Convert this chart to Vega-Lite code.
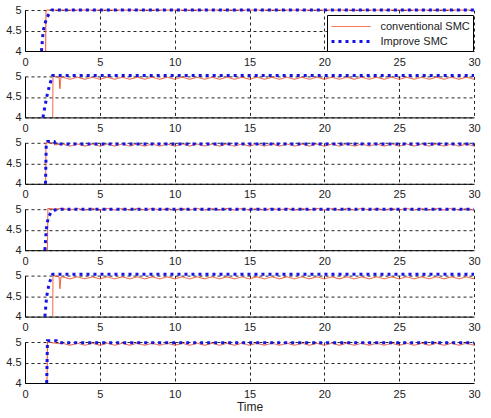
{
"$schema": "https://vega.github.io/schema/vega-lite/v6.json",
"padding": {"left": 5, "top": 4, "right": 0, "bottom": 0},
"background": "white",
"config": {
  "view": {"stroke": null},
  "axis": {"labelFont": "Liberation Sans", "labelFontSize": 11, "labelColor": "#222", "domainColor": "#000", "domainWidth": 1, "ticks": false, "grid": true, "gridColor": "#000", "gridDash": [3, 3], "gridOpacity": 0.85, "gridWidth": 1, "titleFont": "Liberation Sans", "titleFontSize": 12, "titleFontWeight": "normal", "titleColor": "#222"},
  "legend": {"labelFont": "Liberation Sans", "labelFontSize": 11, "labelColor": "#222"}
},
"bounds": "flush",
"spacing": 25.4,
"resolve": {"legend": {"color": "independent", "strokeDash": "independent", "strokeWidth": "independent"}},
"data": {"values": [
{"p":1,"s":"Improve SMC","t":1.1,"v":4.0},{"p":1,"s":"Improve SMC","t":1.22,"v":4.5},{"p":1,"s":"Improve SMC","t":1.4,"v":4.75},{"p":1,"s":"Improve SMC","t":1.55,"v":4.87},{"p":1,"s":"Improve SMC","t":1.8,"v":5.0},{"p":1,"s":"Improve SMC","t":30,"v":5.0},
{"p":1,"s":"conventional SMC","t":1.38,"v":4.0},{"p":1,"s":"conventional SMC","t":1.4,"v":4.95},{"p":1,"s":"conventional SMC","t":1.45,"v":5.0},{"p":1,"s":"conventional SMC","t":30,"v":5.0},

{"p":2,"s":"Improve SMC","t":1.2,"v":4.0},{"p":2,"s":"Improve SMC","t":1.45,"v":4.5},{"p":2,"s":"Improve SMC","t":1.65,"v":4.8},{"p":2,"s":"Improve SMC","t":1.85,"v":5.02},{"p":2,"s":"Improve SMC","t":30,"v":5.02},
{"p":2,"s":"conventional SMC","t":1.85,"v":4.0},{"p":2,"s":"conventional SMC","t":1.87,"v":5.0},{"p":2,"s":"conventional SMC","t":2.28,"v":4.98},{"p":2,"s":"conventional SMC","t":2.33,"v":4.7},{"p":2,"s":"conventional SMC","t":2.4,"v":4.98},
{"p":2,"s":"conventional SMC","t":2.5,"v":4.98},{"p":2,"s":"conventional SMC","t":3,"v":4.93},{"p":2,"s":"conventional SMC","t":3.5,"v":4.98},{"p":2,"s":"conventional SMC","t":4,"v":4.93},{"p":2,"s":"conventional SMC","t":4.5,"v":4.98},{"p":2,"s":"conventional SMC","t":5,"v":4.93},{"p":2,"s":"conventional SMC","t":5.5,"v":4.98},{"p":2,"s":"conventional SMC","t":6,"v":4.93},{"p":2,"s":"conventional SMC","t":6.5,"v":4.98},{"p":2,"s":"conventional SMC","t":7,"v":4.93},{"p":2,"s":"conventional SMC","t":7.5,"v":4.98},{"p":2,"s":"conventional SMC","t":8,"v":4.93},{"p":2,"s":"conventional SMC","t":8.5,"v":4.98},{"p":2,"s":"conventional SMC","t":9,"v":4.93},{"p":2,"s":"conventional SMC","t":9.5,"v":4.98},{"p":2,"s":"conventional SMC","t":10,"v":4.93},{"p":2,"s":"conventional SMC","t":10.5,"v":4.98},{"p":2,"s":"conventional SMC","t":11,"v":4.93},{"p":2,"s":"conventional SMC","t":11.5,"v":4.98},{"p":2,"s":"conventional SMC","t":12,"v":4.93},{"p":2,"s":"conventional SMC","t":12.5,"v":4.98},{"p":2,"s":"conventional SMC","t":13,"v":4.93},{"p":2,"s":"conventional SMC","t":13.5,"v":4.98},{"p":2,"s":"conventional SMC","t":14,"v":4.93},{"p":2,"s":"conventional SMC","t":14.5,"v":4.98},{"p":2,"s":"conventional SMC","t":15,"v":4.93},{"p":2,"s":"conventional SMC","t":15.5,"v":4.98},{"p":2,"s":"conventional SMC","t":16,"v":4.93},{"p":2,"s":"conventional SMC","t":16.5,"v":4.98},{"p":2,"s":"conventional SMC","t":17,"v":4.93},{"p":2,"s":"conventional SMC","t":17.5,"v":4.98},{"p":2,"s":"conventional SMC","t":18,"v":4.93},{"p":2,"s":"conventional SMC","t":18.5,"v":4.98},{"p":2,"s":"conventional SMC","t":19,"v":4.93},{"p":2,"s":"conventional SMC","t":19.5,"v":4.98},{"p":2,"s":"conventional SMC","t":20,"v":4.93},{"p":2,"s":"conventional SMC","t":20.5,"v":4.98},{"p":2,"s":"conventional SMC","t":21,"v":4.93},{"p":2,"s":"conventional SMC","t":21.5,"v":4.98},{"p":2,"s":"conventional SMC","t":22,"v":4.93},{"p":2,"s":"conventional SMC","t":22.5,"v":4.98},{"p":2,"s":"conventional SMC","t":23,"v":4.93},{"p":2,"s":"conventional SMC","t":23.5,"v":4.98},{"p":2,"s":"conventional SMC","t":24,"v":4.93},{"p":2,"s":"conventional SMC","t":24.5,"v":4.98},{"p":2,"s":"conventional SMC","t":25,"v":4.93},{"p":2,"s":"conventional SMC","t":25.5,"v":4.98},{"p":2,"s":"conventional SMC","t":26,"v":4.93},{"p":2,"s":"conventional SMC","t":26.5,"v":4.98},{"p":2,"s":"conventional SMC","t":27,"v":4.93},{"p":2,"s":"conventional SMC","t":27.5,"v":4.98},{"p":2,"s":"conventional SMC","t":28,"v":4.93},{"p":2,"s":"conventional SMC","t":28.5,"v":4.98},{"p":2,"s":"conventional SMC","t":29,"v":4.93},{"p":2,"s":"conventional SMC","t":29.5,"v":4.98},{"p":2,"s":"conventional SMC","t":30,"v":4.93},

{"p":3,"s":"Improve SMC","t":1.37,"v":4.0},{"p":3,"s":"Improve SMC","t":1.42,"v":4.98},{"p":3,"s":"Improve SMC","t":1.5,"v":5.03},{"p":3,"s":"Improve SMC","t":1.95,"v":5.03},{"p":3,"s":"Improve SMC","t":2.05,"v":4.97},{"p":3,"s":"Improve SMC","t":30,"v":4.97},
{"p":3,"s":"conventional SMC","t":1.38,"v":4.0},{"p":3,"s":"conventional SMC","t":1.4,"v":5.0},{"p":3,"s":"conventional SMC","t":1.9,"v":5.0},{"p":3,"s":"conventional SMC","t":2.0,"v":4.95},
{"p":3,"s":"conventional SMC","t":2.5,"v":4.97},{"p":3,"s":"conventional SMC","t":3,"v":4.92},{"p":3,"s":"conventional SMC","t":3.5,"v":4.97},{"p":3,"s":"conventional SMC","t":4,"v":4.92},{"p":3,"s":"conventional SMC","t":4.5,"v":4.97},{"p":3,"s":"conventional SMC","t":5,"v":4.92},{"p":3,"s":"conventional SMC","t":5.5,"v":4.97},{"p":3,"s":"conventional SMC","t":6,"v":4.92},{"p":3,"s":"conventional SMC","t":6.5,"v":4.97},{"p":3,"s":"conventional SMC","t":7,"v":4.92},{"p":3,"s":"conventional SMC","t":7.5,"v":4.97},{"p":3,"s":"conventional SMC","t":8,"v":4.92},{"p":3,"s":"conventional SMC","t":8.5,"v":4.97},{"p":3,"s":"conventional SMC","t":9,"v":4.92},{"p":3,"s":"conventional SMC","t":9.5,"v":4.97},{"p":3,"s":"conventional SMC","t":10,"v":4.92},{"p":3,"s":"conventional SMC","t":10.5,"v":4.97},{"p":3,"s":"conventional SMC","t":11,"v":4.92},{"p":3,"s":"conventional SMC","t":11.5,"v":4.97},{"p":3,"s":"conventional SMC","t":12,"v":4.92},{"p":3,"s":"conventional SMC","t":12.5,"v":4.97},{"p":3,"s":"conventional SMC","t":13,"v":4.92},{"p":3,"s":"conventional SMC","t":13.5,"v":4.97},{"p":3,"s":"conventional SMC","t":14,"v":4.92},{"p":3,"s":"conventional SMC","t":14.5,"v":4.97},{"p":3,"s":"conventional SMC","t":15,"v":4.92},{"p":3,"s":"conventional SMC","t":15.5,"v":4.97},{"p":3,"s":"conventional SMC","t":16,"v":4.92},{"p":3,"s":"conventional SMC","t":16.5,"v":4.97},{"p":3,"s":"conventional SMC","t":17,"v":4.92},{"p":3,"s":"conventional SMC","t":17.5,"v":4.97},{"p":3,"s":"conventional SMC","t":18,"v":4.92},{"p":3,"s":"conventional SMC","t":18.5,"v":4.97},{"p":3,"s":"conventional SMC","t":19,"v":4.92},{"p":3,"s":"conventional SMC","t":19.5,"v":4.97},{"p":3,"s":"conventional SMC","t":20,"v":4.92},{"p":3,"s":"conventional SMC","t":20.5,"v":4.97},{"p":3,"s":"conventional SMC","t":21,"v":4.92},{"p":3,"s":"conventional SMC","t":21.5,"v":4.97},{"p":3,"s":"conventional SMC","t":22,"v":4.92},{"p":3,"s":"conventional SMC","t":22.5,"v":4.97},{"p":3,"s":"conventional SMC","t":23,"v":4.92},{"p":3,"s":"conventional SMC","t":23.5,"v":4.97},{"p":3,"s":"conventional SMC","t":24,"v":4.92},{"p":3,"s":"conventional SMC","t":24.5,"v":4.97},{"p":3,"s":"conventional SMC","t":25,"v":4.92},{"p":3,"s":"conventional SMC","t":25.5,"v":4.97},{"p":3,"s":"conventional SMC","t":26,"v":4.92},{"p":3,"s":"conventional SMC","t":26.5,"v":4.97},{"p":3,"s":"conventional SMC","t":27,"v":4.92},{"p":3,"s":"conventional SMC","t":27.5,"v":4.97},{"p":3,"s":"conventional SMC","t":28,"v":4.92},{"p":3,"s":"conventional SMC","t":28.5,"v":4.97},{"p":3,"s":"conventional SMC","t":29,"v":4.92},{"p":3,"s":"conventional SMC","t":29.5,"v":4.97},{"p":3,"s":"conventional SMC","t":30,"v":4.92},

{"p":4,"s":"Improve SMC","t":1.33,"v":4.0},{"p":4,"s":"Improve SMC","t":1.42,"v":4.5},{"p":4,"s":"Improve SMC","t":1.55,"v":4.8},{"p":4,"s":"Improve SMC","t":1.75,"v":4.93},{"p":4,"s":"Improve SMC","t":2.0,"v":4.98},{"p":4,"s":"Improve SMC","t":2.4,"v":5.0},{"p":4,"s":"Improve SMC","t":30,"v":5.0},
{"p":4,"s":"conventional SMC","t":1.5,"v":4.0},{"p":4,"s":"conventional SMC","t":1.53,"v":5.02},{"p":4,"s":"conventional SMC","t":2.0,"v":5.0},
{"p":4,"s":"conventional SMC","t":2.5,"v":5.02},{"p":4,"s":"conventional SMC","t":3,"v":4.98},{"p":4,"s":"conventional SMC","t":3.5,"v":5.02},{"p":4,"s":"conventional SMC","t":4,"v":4.98},{"p":4,"s":"conventional SMC","t":4.5,"v":5.02},{"p":4,"s":"conventional SMC","t":5,"v":4.98},{"p":4,"s":"conventional SMC","t":5.5,"v":5.02},{"p":4,"s":"conventional SMC","t":6,"v":4.98},{"p":4,"s":"conventional SMC","t":6.5,"v":5.02},{"p":4,"s":"conventional SMC","t":7,"v":4.98},{"p":4,"s":"conventional SMC","t":7.5,"v":5.02},{"p":4,"s":"conventional SMC","t":8,"v":4.98},{"p":4,"s":"conventional SMC","t":8.5,"v":5.02},{"p":4,"s":"conventional SMC","t":9,"v":4.98},{"p":4,"s":"conventional SMC","t":9.5,"v":5.02},{"p":4,"s":"conventional SMC","t":10,"v":4.98},{"p":4,"s":"conventional SMC","t":10.5,"v":5.02},{"p":4,"s":"conventional SMC","t":11,"v":4.98},{"p":4,"s":"conventional SMC","t":11.5,"v":5.02},{"p":4,"s":"conventional SMC","t":12,"v":4.98},{"p":4,"s":"conventional SMC","t":12.5,"v":5.02},{"p":4,"s":"conventional SMC","t":13,"v":4.98},{"p":4,"s":"conventional SMC","t":13.5,"v":5.02},{"p":4,"s":"conventional SMC","t":14,"v":4.98},{"p":4,"s":"conventional SMC","t":14.5,"v":5.02},{"p":4,"s":"conventional SMC","t":15,"v":4.98},{"p":4,"s":"conventional SMC","t":15.5,"v":5.02},{"p":4,"s":"conventional SMC","t":16,"v":4.98},{"p":4,"s":"conventional SMC","t":16.5,"v":5.02},{"p":4,"s":"conventional SMC","t":17,"v":4.98},{"p":4,"s":"conventional SMC","t":17.5,"v":5.02},{"p":4,"s":"conventional SMC","t":18,"v":4.98},{"p":4,"s":"conventional SMC","t":18.5,"v":5.02},{"p":4,"s":"conventional SMC","t":19,"v":4.98},{"p":4,"s":"conventional SMC","t":19.5,"v":5.02},{"p":4,"s":"conventional SMC","t":20,"v":4.98},{"p":4,"s":"conventional SMC","t":20.5,"v":5.02},{"p":4,"s":"conventional SMC","t":21,"v":4.98},{"p":4,"s":"conventional SMC","t":21.5,"v":5.02},{"p":4,"s":"conventional SMC","t":22,"v":4.98},{"p":4,"s":"conventional SMC","t":22.5,"v":5.02},{"p":4,"s":"conventional SMC","t":23,"v":4.98},{"p":4,"s":"conventional SMC","t":23.5,"v":5.02},{"p":4,"s":"conventional SMC","t":24,"v":4.98},{"p":4,"s":"conventional SMC","t":24.5,"v":5.02},{"p":4,"s":"conventional SMC","t":25,"v":4.98},{"p":4,"s":"conventional SMC","t":25.5,"v":5.02},{"p":4,"s":"conventional SMC","t":26,"v":4.98},{"p":4,"s":"conventional SMC","t":26.5,"v":5.02},{"p":4,"s":"conventional SMC","t":27,"v":4.98},{"p":4,"s":"conventional SMC","t":27.5,"v":5.02},{"p":4,"s":"conventional SMC","t":28,"v":4.98},{"p":4,"s":"conventional SMC","t":28.5,"v":5.02},{"p":4,"s":"conventional SMC","t":29,"v":4.98},{"p":4,"s":"conventional SMC","t":29.5,"v":5.02},{"p":4,"s":"conventional SMC","t":30,"v":4.98},

{"p":5,"s":"Improve SMC","t":1.33,"v":4.0},{"p":5,"s":"Improve SMC","t":1.45,"v":4.5},{"p":5,"s":"Improve SMC","t":1.62,"v":4.82},{"p":5,"s":"Improve SMC","t":1.85,"v":5.03},{"p":5,"s":"Improve SMC","t":30,"v":5.03},
{"p":5,"s":"conventional SMC","t":1.85,"v":4.0},{"p":5,"s":"conventional SMC","t":1.87,"v":5.0},{"p":5,"s":"conventional SMC","t":2.28,"v":4.97},{"p":5,"s":"conventional SMC","t":2.33,"v":4.68},{"p":5,"s":"conventional SMC","t":2.4,"v":4.96},
{"p":5,"s":"conventional SMC","t":2.5,"v":4.97},{"p":5,"s":"conventional SMC","t":3,"v":4.92},{"p":5,"s":"conventional SMC","t":3.5,"v":4.97},{"p":5,"s":"conventional SMC","t":4,"v":4.92},{"p":5,"s":"conventional SMC","t":4.5,"v":4.97},{"p":5,"s":"conventional SMC","t":5,"v":4.92},{"p":5,"s":"conventional SMC","t":5.5,"v":4.97},{"p":5,"s":"conventional SMC","t":6,"v":4.92},{"p":5,"s":"conventional SMC","t":6.5,"v":4.97},{"p":5,"s":"conventional SMC","t":7,"v":4.92},{"p":5,"s":"conventional SMC","t":7.5,"v":4.97},{"p":5,"s":"conventional SMC","t":8,"v":4.92},{"p":5,"s":"conventional SMC","t":8.5,"v":4.97},{"p":5,"s":"conventional SMC","t":9,"v":4.92},{"p":5,"s":"conventional SMC","t":9.5,"v":4.97},{"p":5,"s":"conventional SMC","t":10,"v":4.92},{"p":5,"s":"conventional SMC","t":10.5,"v":4.97},{"p":5,"s":"conventional SMC","t":11,"v":4.92},{"p":5,"s":"conventional SMC","t":11.5,"v":4.97},{"p":5,"s":"conventional SMC","t":12,"v":4.92},{"p":5,"s":"conventional SMC","t":12.5,"v":4.97},{"p":5,"s":"conventional SMC","t":13,"v":4.92},{"p":5,"s":"conventional SMC","t":13.5,"v":4.97},{"p":5,"s":"conventional SMC","t":14,"v":4.92},{"p":5,"s":"conventional SMC","t":14.5,"v":4.97},{"p":5,"s":"conventional SMC","t":15,"v":4.92},{"p":5,"s":"conventional SMC","t":15.5,"v":4.97},{"p":5,"s":"conventional SMC","t":16,"v":4.92},{"p":5,"s":"conventional SMC","t":16.5,"v":4.97},{"p":5,"s":"conventional SMC","t":17,"v":4.92},{"p":5,"s":"conventional SMC","t":17.5,"v":4.97},{"p":5,"s":"conventional SMC","t":18,"v":4.92},{"p":5,"s":"conventional SMC","t":18.5,"v":4.97},{"p":5,"s":"conventional SMC","t":19,"v":4.92},{"p":5,"s":"conventional SMC","t":19.5,"v":4.97},{"p":5,"s":"conventional SMC","t":20,"v":4.92},{"p":5,"s":"conventional SMC","t":20.5,"v":4.97},{"p":5,"s":"conventional SMC","t":21,"v":4.92},{"p":5,"s":"conventional SMC","t":21.5,"v":4.97},{"p":5,"s":"conventional SMC","t":22,"v":4.92},{"p":5,"s":"conventional SMC","t":22.5,"v":4.97},{"p":5,"s":"conventional SMC","t":23,"v":4.92},{"p":5,"s":"conventional SMC","t":23.5,"v":4.97},{"p":5,"s":"conventional SMC","t":24,"v":4.92},{"p":5,"s":"conventional SMC","t":24.5,"v":4.97},{"p":5,"s":"conventional SMC","t":25,"v":4.92},{"p":5,"s":"conventional SMC","t":25.5,"v":4.97},{"p":5,"s":"conventional SMC","t":26,"v":4.92},{"p":5,"s":"conventional SMC","t":26.5,"v":4.97},{"p":5,"s":"conventional SMC","t":27,"v":4.92},{"p":5,"s":"conventional SMC","t":27.5,"v":4.97},{"p":5,"s":"conventional SMC","t":28,"v":4.92},{"p":5,"s":"conventional SMC","t":28.5,"v":4.97},{"p":5,"s":"conventional SMC","t":29,"v":4.92},{"p":5,"s":"conventional SMC","t":29.5,"v":4.97},{"p":5,"s":"conventional SMC","t":30,"v":4.92},

{"p":6,"s":"Improve SMC","t":1.45,"v":4.0},{"p":6,"s":"Improve SMC","t":1.5,"v":5.03},{"p":6,"s":"Improve SMC","t":2.1,"v":5.03},{"p":6,"s":"Improve SMC","t":2.2,"v":4.98},{"p":6,"s":"Improve SMC","t":30,"v":4.98},
{"p":6,"s":"conventional SMC","t":1.47,"v":4.0},{"p":6,"s":"conventional SMC","t":1.5,"v":5.0},{"p":6,"s":"conventional SMC","t":2.2,"v":4.96},
{"p":6,"s":"conventional SMC","t":2.5,"v":4.97},{"p":6,"s":"conventional SMC","t":3,"v":4.92},{"p":6,"s":"conventional SMC","t":3.5,"v":4.97},{"p":6,"s":"conventional SMC","t":4,"v":4.92},{"p":6,"s":"conventional SMC","t":4.5,"v":4.97},{"p":6,"s":"conventional SMC","t":5,"v":4.92},{"p":6,"s":"conventional SMC","t":5.5,"v":4.97},{"p":6,"s":"conventional SMC","t":6,"v":4.92},{"p":6,"s":"conventional SMC","t":6.5,"v":4.97},{"p":6,"s":"conventional SMC","t":7,"v":4.92},{"p":6,"s":"conventional SMC","t":7.5,"v":4.97},{"p":6,"s":"conventional SMC","t":8,"v":4.92},{"p":6,"s":"conventional SMC","t":8.5,"v":4.97},{"p":6,"s":"conventional SMC","t":9,"v":4.92},{"p":6,"s":"conventional SMC","t":9.5,"v":4.97},{"p":6,"s":"conventional SMC","t":10,"v":4.92},{"p":6,"s":"conventional SMC","t":10.5,"v":4.97},{"p":6,"s":"conventional SMC","t":11,"v":4.92},{"p":6,"s":"conventional SMC","t":11.5,"v":4.97},{"p":6,"s":"conventional SMC","t":12,"v":4.92},{"p":6,"s":"conventional SMC","t":12.5,"v":4.97},{"p":6,"s":"conventional SMC","t":13,"v":4.92},{"p":6,"s":"conventional SMC","t":13.5,"v":4.97},{"p":6,"s":"conventional SMC","t":14,"v":4.92},{"p":6,"s":"conventional SMC","t":14.5,"v":4.97},{"p":6,"s":"conventional SMC","t":15,"v":4.92},{"p":6,"s":"conventional SMC","t":15.5,"v":4.97},{"p":6,"s":"conventional SMC","t":16,"v":4.92},{"p":6,"s":"conventional SMC","t":16.5,"v":4.97},{"p":6,"s":"conventional SMC","t":17,"v":4.92},{"p":6,"s":"conventional SMC","t":17.5,"v":4.97},{"p":6,"s":"conventional SMC","t":18,"v":4.92},{"p":6,"s":"conventional SMC","t":18.5,"v":4.97},{"p":6,"s":"conventional SMC","t":19,"v":4.92},{"p":6,"s":"conventional SMC","t":19.5,"v":4.97},{"p":6,"s":"conventional SMC","t":20,"v":4.92},{"p":6,"s":"conventional SMC","t":20.5,"v":4.97},{"p":6,"s":"conventional SMC","t":21,"v":4.92},{"p":6,"s":"conventional SMC","t":21.5,"v":4.97},{"p":6,"s":"conventional SMC","t":22,"v":4.92},{"p":6,"s":"conventional SMC","t":22.5,"v":4.97},{"p":6,"s":"conventional SMC","t":23,"v":4.92},{"p":6,"s":"conventional SMC","t":23.5,"v":4.97},{"p":6,"s":"conventional SMC","t":24,"v":4.92},{"p":6,"s":"conventional SMC","t":24.5,"v":4.97},{"p":6,"s":"conventional SMC","t":25,"v":4.92},{"p":6,"s":"conventional SMC","t":25.5,"v":4.97},{"p":6,"s":"conventional SMC","t":26,"v":4.92},{"p":6,"s":"conventional SMC","t":26.5,"v":4.97},{"p":6,"s":"conventional SMC","t":27,"v":4.92},{"p":6,"s":"conventional SMC","t":27.5,"v":4.97},{"p":6,"s":"conventional SMC","t":28,"v":4.92},{"p":6,"s":"conventional SMC","t":28.5,"v":4.97},{"p":6,"s":"conventional SMC","t":29,"v":4.92},{"p":6,"s":"conventional SMC","t":29.5,"v":4.97},{"p":6,"s":"conventional SMC","t":30,"v":4.92}
]},
"vconcat": [
{"width": 449, "height": 41, "transform": [{"filter": "datum.p == 1"}],
 "encoding": {
  "x": {"field": "t", "type": "quantitative", "scale": {"domain": [0, 30], "nice": false}, "axis": {"values": [0,5,10,15,20,25,30], "title": null, "labelFlush": false, "labelPadding": 5}},
  "y": {"field": "v", "type": "quantitative", "scale": {"domain": [4, 5], "nice": false, "zero": false}, "axis": {"values": [4, 4.5, 5], "format": "~g", "title": null, "labelPadding": 4}},
  "color": {"field": "s", "type": "nominal", "scale": {"domain": ["conventional SMC", "Improve SMC"], "range": ["#f0502a", "#1414e6"]}, "legend": {"title": null, "orient": "none", "legendX": 302, "legendY": 5, "fillColor": "white", "strokeColor": "#000", "padding": 3, "symbolType": "M-2.44,0H2.44", "symbolSize": 256, "symbolOffset": 11.5, "labelOffset": 20, "rowPadding": 0}},
  "strokeDash": {"field": "s", "type": "nominal", "scale": {"domain": ["conventional SMC", "Improve SMC"], "range": [[1, 0], [3, 4]]}, "legend": {"title": null, "orient": "none", "legendX": 302, "legendY": 5, "fillColor": "white", "strokeColor": "#000", "padding": 3, "symbolType": "M-2.44,0H2.44", "symbolSize": 256, "symbolOffset": 11.5, "labelOffset": 20, "rowPadding": 0}},
  "strokeWidth": {"field": "s", "type": "nominal", "scale": {"domain": ["conventional SMC", "Improve SMC"], "range": [1, 3]}, "legend": {"title": null, "orient": "none", "legendX": 302, "legendY": 5, "fillColor": "white", "strokeColor": "#000", "padding": 3, "symbolType": "M-2.44,0H2.44", "symbolSize": 256, "symbolOffset": 11.5, "labelOffset": 20, "rowPadding": 0}}
 },
 "layer": [
  {"transform": [{"filter": "datum.s == 'conventional SMC'"}], "mark": {"type": "line", "clip": false}},
  {"transform": [{"filter": "datum.s == 'Improve SMC'"}], "mark": {"type": "line", "clip": false}}
 ]},
{"width": 449, "height": 41, "transform": [{"filter": "datum.p == 2"}],
 "encoding": {
  "x": {"field": "t", "type": "quantitative", "scale": {"domain": [0, 30], "nice": false}, "axis": {"values": [0,5,10,15,20,25,30], "title": null, "labelFlush": false, "labelPadding": 5}},
  "y": {"field": "v", "type": "quantitative", "scale": {"domain": [4, 5], "nice": false, "zero": false}, "axis": {"values": [4, 4.5, 5], "format": "~g", "title": null, "labelPadding": 4}},
  "color": {"field": "s", "type": "nominal", "scale": {"domain": ["conventional SMC", "Improve SMC"], "range": ["#f0502a", "#1414e6"]}, "legend": null},
  "strokeDash": {"field": "s", "type": "nominal", "scale": {"domain": ["conventional SMC", "Improve SMC"], "range": [[1, 0], [3, 4]]}, "legend": null},
  "strokeWidth": {"field": "s", "type": "nominal", "scale": {"domain": ["conventional SMC", "Improve SMC"], "range": [1, 3]}, "legend": null}
 },
 "layer": [
  {"transform": [{"filter": "datum.s == 'conventional SMC'"}], "mark": {"type": "line", "clip": false}},
  {"transform": [{"filter": "datum.s == 'Improve SMC'"}], "mark": {"type": "line", "clip": false}}
 ]},
{"width": 449, "height": 41, "transform": [{"filter": "datum.p == 3"}],
 "encoding": {
  "x": {"field": "t", "type": "quantitative", "scale": {"domain": [0, 30], "nice": false}, "axis": {"values": [0,5,10,15,20,25,30], "title": null, "labelFlush": false, "labelPadding": 5}},
  "y": {"field": "v", "type": "quantitative", "scale": {"domain": [4, 5], "nice": false, "zero": false}, "axis": {"values": [4, 4.5, 5], "format": "~g", "title": null, "labelPadding": 4}},
  "color": {"field": "s", "type": "nominal", "scale": {"domain": ["conventional SMC", "Improve SMC"], "range": ["#f0502a", "#1414e6"]}, "legend": null},
  "strokeDash": {"field": "s", "type": "nominal", "scale": {"domain": ["conventional SMC", "Improve SMC"], "range": [[1, 0], [3, 4]]}, "legend": null},
  "strokeWidth": {"field": "s", "type": "nominal", "scale": {"domain": ["conventional SMC", "Improve SMC"], "range": [1, 3]}, "legend": null}
 },
 "layer": [
  {"transform": [{"filter": "datum.s == 'conventional SMC'"}], "mark": {"type": "line", "clip": false}},
  {"transform": [{"filter": "datum.s == 'Improve SMC'"}], "mark": {"type": "line", "clip": false}}
 ]},
{"width": 449, "height": 41, "transform": [{"filter": "datum.p == 4"}],
 "encoding": {
  "x": {"field": "t", "type": "quantitative", "scale": {"domain": [0, 30], "nice": false}, "axis": {"values": [0,5,10,15,20,25,30], "title": null, "labelFlush": false, "labelPadding": 5}},
  "y": {"field": "v", "type": "quantitative", "scale": {"domain": [4, 5], "nice": false, "zero": false}, "axis": {"values": [4, 4.5, 5], "format": "~g", "title": null, "labelPadding": 4}},
  "color": {"field": "s", "type": "nominal", "scale": {"domain": ["conventional SMC", "Improve SMC"], "range": ["#f0502a", "#1414e6"]}, "legend": null},
  "strokeDash": {"field": "s", "type": "nominal", "scale": {"domain": ["conventional SMC", "Improve SMC"], "range": [[1, 0], [3, 4]]}, "legend": null},
  "strokeWidth": {"field": "s", "type": "nominal", "scale": {"domain": ["conventional SMC", "Improve SMC"], "range": [1, 3]}, "legend": null}
 },
 "layer": [
  {"transform": [{"filter": "datum.s == 'conventional SMC'"}], "mark": {"type": "line", "clip": false}},
  {"transform": [{"filter": "datum.s == 'Improve SMC'"}], "mark": {"type": "line", "clip": false}}
 ]},
{"width": 449, "height": 41, "transform": [{"filter": "datum.p == 5"}],
 "encoding": {
  "x": {"field": "t", "type": "quantitative", "scale": {"domain": [0, 30], "nice": false}, "axis": {"values": [0,5,10,15,20,25,30], "title": null, "labelFlush": false, "labelPadding": 5}},
  "y": {"field": "v", "type": "quantitative", "scale": {"domain": [4, 5], "nice": false, "zero": false}, "axis": {"values": [4, 4.5, 5], "format": "~g", "title": null, "labelPadding": 4}},
  "color": {"field": "s", "type": "nominal", "scale": {"domain": ["conventional SMC", "Improve SMC"], "range": ["#f0502a", "#1414e6"]}, "legend": null},
  "strokeDash": {"field": "s", "type": "nominal", "scale": {"domain": ["conventional SMC", "Improve SMC"], "range": [[1, 0], [3, 4]]}, "legend": null},
  "strokeWidth": {"field": "s", "type": "nominal", "scale": {"domain": ["conventional SMC", "Improve SMC"], "range": [1, 3]}, "legend": null}
 },
 "layer": [
  {"transform": [{"filter": "datum.s == 'conventional SMC'"}], "mark": {"type": "line", "clip": false}},
  {"transform": [{"filter": "datum.s == 'Improve SMC'"}], "mark": {"type": "line", "clip": false}}
 ]},
{"width": 449, "height": 41, "transform": [{"filter": "datum.p == 6"}],
 "encoding": {
  "x": {"field": "t", "type": "quantitative", "scale": {"domain": [0, 30], "nice": false}, "axis": {"values": [0,5,10,15,20,25,30], "title": "Time", "titlePadding": 2, "labelFlush": false, "labelPadding": 5}},
  "y": {"field": "v", "type": "quantitative", "scale": {"domain": [4, 5], "nice": false, "zero": false}, "axis": {"values": [4, 4.5, 5], "format": "~g", "title": null, "labelPadding": 4}},
  "color": {"field": "s", "type": "nominal", "scale": {"domain": ["conventional SMC", "Improve SMC"], "range": ["#f0502a", "#1414e6"]}, "legend": null},
  "strokeDash": {"field": "s", "type": "nominal", "scale": {"domain": ["conventional SMC", "Improve SMC"], "range": [[1, 0], [3, 4]]}, "legend": null},
  "strokeWidth": {"field": "s", "type": "nominal", "scale": {"domain": ["conventional SMC", "Improve SMC"], "range": [1, 3]}, "legend": null}
 },
 "layer": [
  {"transform": [{"filter": "datum.s == 'conventional SMC'"}], "mark": {"type": "line", "clip": false}},
  {"transform": [{"filter": "datum.s == 'Improve SMC'"}], "mark": {"type": "line", "clip": false}}
 ]}
]
}
